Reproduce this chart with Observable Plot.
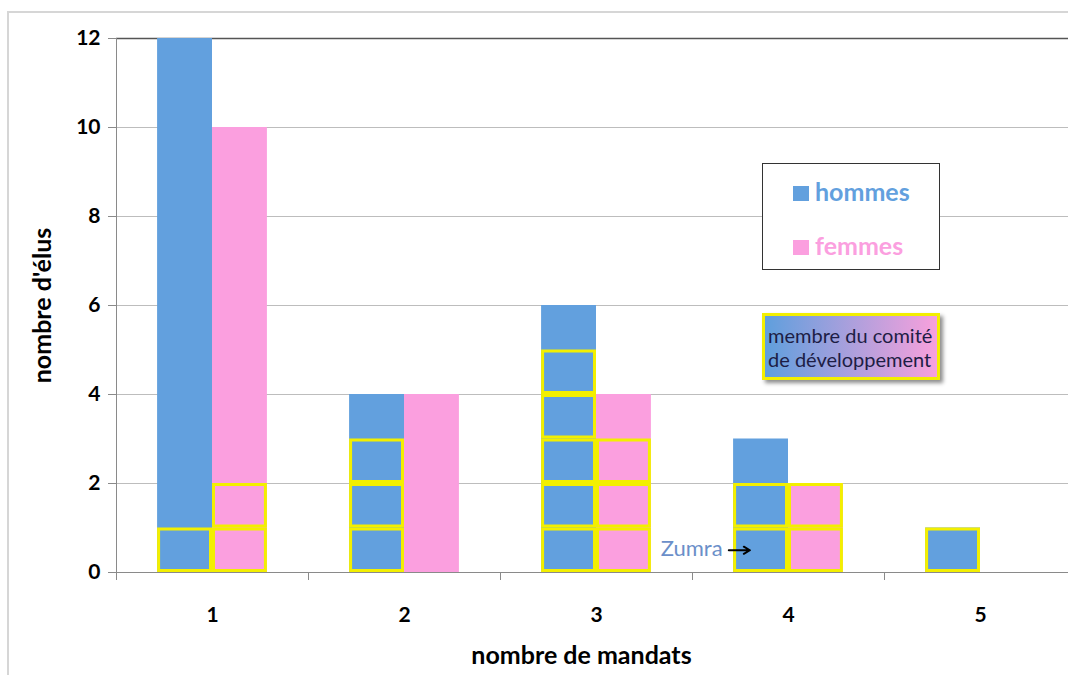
<!DOCTYPE html>
<html>
<head>
<meta charset="utf-8">
<script src="https://cdn.jsdelivr.net/npm/d3@7"></script>
<script src="https://cdn.jsdelivr.net/npm/@observablehq/plot@0.6"></script>
<style>
  html, body { margin: 0; padding: 0; background: #fff; }
  #wrap { position: relative; width: 1068px; height: 675px; overflow: hidden; font-family: Lato, "Open Sans", sans-serif; }
  #outer { position: absolute; left: 7px; top: 11px; width: 1200px; height: 800px; border: 2px solid #d6d6d6; box-sizing: border-box; pointer-events: none; }
  #chart { position: absolute; left: 0; top: 0; }
  .legend { position: absolute; left: 762px; top: 163px; width: 178px; height: 107px; border: 1.5px solid #333; background: #fff; box-sizing: border-box; }
  .legend .item { position: absolute; left: 30px; height: 26px; line-height: 26px; font-size: 25px; font-weight: bold; white-space: nowrap; }
  .legend .sw { display: inline-block; width: 16px; height: 15px; margin-right: 6px; vertical-align: 0px; }
  .comite { position: absolute; left: 762px; top: 313px; width: 178px; height: 67px; border: 3px solid #f3ef00; box-sizing: border-box;
            background: linear-gradient(to right, #5f9fdd, #f8a0dc); box-shadow: 3px 3px 4px rgba(0,0,0,0.45);
            color: #1d1d45; font-size: 20px; line-height: 24px; padding: 7px 0 0 3px; white-space: nowrap; }
</style>
</head>
<body>
<div id="wrap">
  <div id="chart"></div>
  <div id="outer"></div>
</div>
<script>
// ---- data ----
const mandats = [1, 2, 3, 4, 5];
const hommes = [12, 4, 6, 3, 1];
const femmes = [10, 4, 4, 2, 0];
const comiteHommes = [1, 3, 5, 2, 1];
const comiteFemmes = [2, 0, 3, 2, 0];
const seriesNames = ["hommes", "femmes"];
const seriesColors = ["#62a0de", "#fb9fdf"];
const yTicks = [0, 2, 4, 6, 8, 10, 12];
const comiteLabel = ["membre du comité", "de développement"];
const annotation = [{label: "Zumra", mandats: 4, sexe: "hommes", rang: 0.5}];
const xLabel = "nombre de mandats";
const yLabel = "nombre d'élus";

// ---- derived tables ----
const barW = 0.286;
const bars = mandats.flatMap((m, i) => [
  {m, sexe: "hommes", n: hommes[i]},
  {m, sexe: "femmes", n: femmes[i]}
]);
const squares = mandats.flatMap((m, i) => [
  ...d3.range(comiteHommes[i]).map(k => ({m, sexe: "hommes", k})),
  ...d3.range(comiteFemmes[i]).map(k => ({m, sexe: "femmes", k}))
]);
const left = d => d.sexe === "hommes" ? d.m - barW : d.m;
const right = d => d.sexe === "hommes" ? d.m : d.m + barW;
const boundaries = mandats.map(m => m - 0.5);

const chart = Plot.plot({
  width: 1068,
  height: 675,
  marginLeft: 116,
  marginRight: -8,
  marginTop: 38,
  marginBottom: 103,
  style: {fontFamily: "Lato, 'Open Sans', sans-serif", fontWeight: "bold", color: "#000", background: "transparent", overflow: "visible"},
  x: {domain: [0.5, 5.5]},
  y: {domain: [0, 12]},
  color: {domain: seriesNames, range: seriesColors},
  marks: [
    Plot.gridY(yTicks.filter(t => t > 0 && t < 12), {stroke: "#bdbdbd", strokeOpacity: 1}),
    Plot.ruleY([12], {stroke: "#555", strokeWidth: 1.5}),
    Plot.rectY(bars, {x1: left, x2: right, y1: 0, y2: "n", fill: "sexe"}),
    Plot.rectY(squares, {x1: left, x2: right, y1: "k", y2: d => d.k + 1, fill: "sexe", stroke: "#f3ef00", strokeWidth: 3, inset: 1.5}),
    Plot.ruleX([0.5], {stroke: "#8a8a8a"}),
    Plot.ruleY([0], {stroke: "#8a8a8a"}),
    Plot.axisY(yTicks, {tickSize: 8, tickPadding: 8, stroke: "#8a8a8a", fontSize: 21, fontWeight: "bold", fill: "#000", label: null}),
    Plot.axisX(boundaries, {tickSize: 8, stroke: "#8a8a8a", tickFormat: () => "", label: null}),
    Plot.axisX(mandats, {tickSize: 0, tickPadding: 35, tickFormat: d => String(d), fontSize: 21, fontWeight: "bold", fill: "#000", label: null}),
    Plot.text([yLabel], {frameAnchor: "left", textAnchor: "middle", lineAnchor: "middle", dx: -74, rotate: -90, fontSize: 25, fontWeight: "bold", fill: "#000"}),
    Plot.text([xLabel], {frameAnchor: "bottom", textAnchor: "middle", lineAnchor: "middle", dx: -15, dy: 83, fontSize: 25, fontWeight: "bold", fill: "#000"}),
    Plot.text(annotation, {x: d => d.mandats - barW, y: "rang", text: "label", textAnchor: "end", dx: -11, dy: -1, fill: "#6b8fc9", fontSize: 22, fontWeight: "normal"}),
    Plot.arrow(annotation, {x1: d => d.mandats - barW - 0.025, x2: d => d.mandats - barW + 0.085, y1: "rang", y2: "rang", stroke: "#000", strokeWidth: 2, headLength: 7})
  ]
});
document.getElementById("chart").appendChild(chart);

// ---- legends ----
const wrap = document.getElementById("wrap");
const leg = document.createElement("div");
leg.className = "legend";
seriesNames.forEach((name, i) => {
  const it = document.createElement("div");
  it.className = "item";
  it.style.top = (i === 0 ? 14 : 68) + "px";
  it.style.color = seriesColors[i];
  const sw = document.createElement("span");
  sw.className = "sw";
  sw.style.background = seriesColors[i];
  it.appendChild(sw);
  it.appendChild(document.createTextNode(name));
  leg.appendChild(it);
});
wrap.appendChild(leg);

const com = document.createElement("div");
com.className = "comite";
com.innerHTML = comiteLabel.map(t => `<div>${t}</div>`).join("");
wrap.appendChild(com);
</script>
</body>
</html>
